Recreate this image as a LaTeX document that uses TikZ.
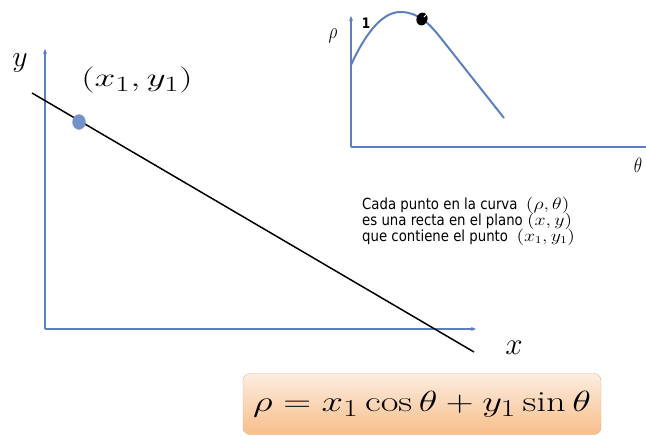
\documentclass[tikz,border=0pt]{standalone}
\usepackage{fontspec}
\newfontfamily\notefont{DejaVu Sans}
\usetikzlibrary{arrows.meta,positioning,calc,shapes.geometric}
\definecolor{axisblue}{HTML}{5B7FBF}
\definecolor{boxtop}{HTML}{FDEDE0}
\definecolor{boxbot}{HTML}{F8BE8A}
\definecolor{boxline}{HTML}{E3B48E}
\newcommand{\noteline}[1]{\scalebox{1}[1.15]{#1}}
\newcommand{\notemath}[1]{\scalebox{1.38}[1]{$#1$}}

\begin{document}
\begin{tikzpicture}[
  x=1pt, y=-1pt,
  axis/.style={draw=axisblue, line width=1.3pt, -{Stealth[length=5pt,width=4pt]}},
  curve/.style={draw=axisblue, line width=2pt},
  lab/.style={inner sep=0pt, font=\Huge},
  note/.style={anchor=base west, inner sep=0pt, font=\notefont\fontsize{13.3}{16}\selectfont},
  formula/.style={draw=boxline, rounded corners=7pt, top color=boxtop, bottom color=boxbot,
    minimum width=358pt, minimum height=61pt, font=\Huge}
]
\useasboundingbox (0,0) rectangle (646,439);

% ---- Plane (x,y) ----
\coordinate (o) at (45,329);
\coordinate (ytip) at (45,49);
\coordinate (xtip) at (476,329);
\draw[axis] (o) -- (ytip);
\draw[axis] (o) -- (xtip);
\coordinate (la) at (32,93);
\coordinate (lb) at (474,352);
\draw[line width=1.5pt] (la) -- (lb);
\node[fill=axisblue!85, draw=axisblue!70!white, ellipse, minimum width=13pt, minimum height=15pt, inner sep=0pt] (pt) at (79,122) {};
\node[lab] (ylab) at (20,63) {\scalebox{1.2}{$y$}};
\node[lab] (xlab) at (514,348) {\scalebox{1.25}{$x$}};
\node[lab] (ptlab) at (137,80) {\scalebox{1.5}[1.05]{$(x_1,y_1)$}};

% ---- Hough space (rho,theta) ----
\coordinate (o2) at (351,147);
\coordinate (rtip) at (351,16);
\coordinate (tend) at (646,147);
\draw[axis] (o2) -- (rtip);
\draw[draw=axisblue, line width=1.3pt] (o2) -- (tend);
\draw[curve] (351,65) .. controls (368,28) and (385,11) .. (402,12)
  .. controls (418,13) and (428,22) .. (440,37) -- (504,118);
\node[ellipse, fill=black, minimum width=11pt, minimum height=13pt, inner sep=0pt, rotate=-20] (dot) at (422,19) {};
\draw[white, line width=0.9pt] ($(dot)+(2,-2)$) -- ($(dot)+(6,-6)$);
\node[lab, font=\fontsize{16}{18}\selectfont] (rholab) at (333,36) {\scalebox{1}[1.3]{$\rho$}};
\node[lab, font=\fontsize{17}{19}\selectfont] (thetalab) at (638,165) {\scalebox{1}[1.2]{$\theta$}};
\node[inner sep=0pt, font=\notefont\bfseries\fontsize{12}{13}\selectfont] (one) at (366,23) {\scalebox{1}[1.2]{1}};

% ---- Note ----
\node[note] (txt1) at (362,209) {\noteline{Cada punto en la curva \ \notemath{(\rho,\theta)}}};
\node[note] (txt2) at (362,225) {\noteline{es una recta en el plano \notemath{(x,y)}}};
\node[note] (txt3) at (362,241) {\noteline{que contiene el punto \ \notemath{(x_1,y_1)}}};

% ---- Formula ----
\node[formula] (eq) at (422,404) {\scalebox{1.55}[1.17]{$\rho = x_1\cos\theta + y_1\sin\theta$}};
\end{tikzpicture}
\end{document}
